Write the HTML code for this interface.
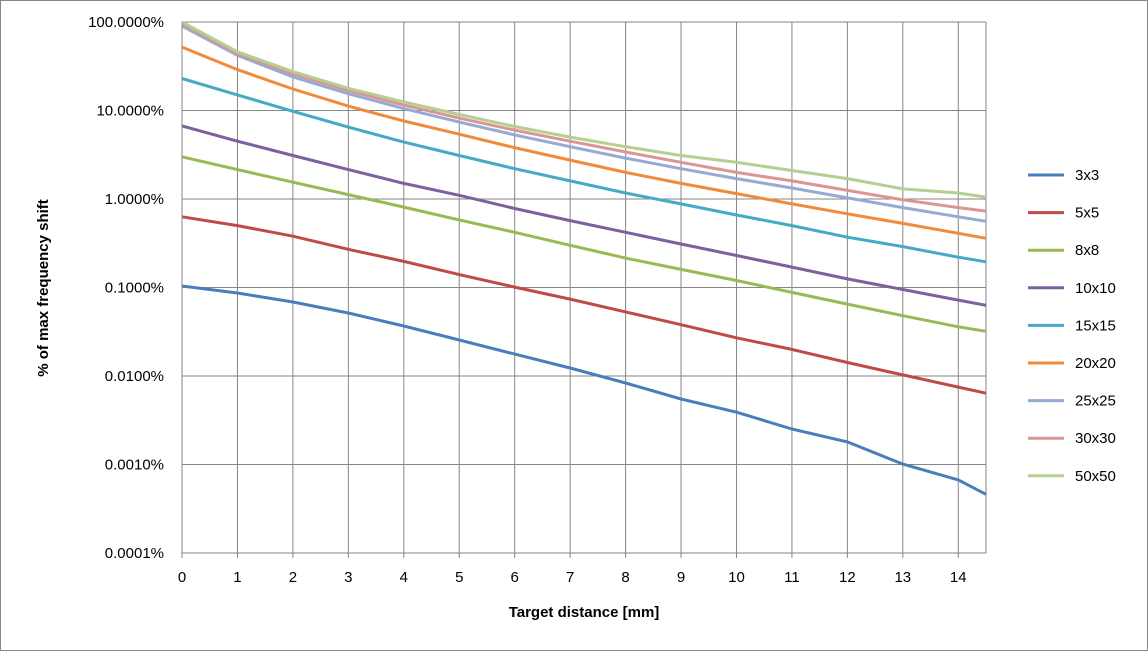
<!DOCTYPE html>
<html><head><meta charset="utf-8"><style>
html,body{margin:0;padding:0;background:#fff}
svg{display:block;font-family:"Liberation Sans",Arial,sans-serif}
</style></head><body>
<svg width="1148" height="651" viewBox="0 0 1148 651">
<rect x="0.5" y="0.5" width="1147" height="650" fill="#fff" stroke="#868686"/>
<g id="grid"></g>
<g id="series"></g>
<g id="axes"></g>
<text x="48" y="288" transform="rotate(-90 48 288)" text-anchor="middle" font-size="15" font-weight="bold">% of max frequency shift</text>
<text x="584" y="617" text-anchor="middle" font-size="15" font-weight="bold">Target distance [mm]</text>
<g id="legend"></g>
</svg>
<script>
const xs=[0,1,2,3,4,5,6,7,8,9,10,11,12,13,14,14.5];
const names=["3x3","5x5","8x8","10x10","15x15","20x20","25x25","30x30","50x50"];
const s3x3=[0.104,0.0867,0.0686,0.0515,0.0367,0.0255,0.0177,0.0123,0.00834,0.0055,0.0039,0.00252,0.0018,0.00101,0.00067,0.00046];
const s5x5=[0.63,0.50,0.38,0.27,0.197,0.14,0.101,0.074,0.053,0.038,0.027,0.020,0.0142,0.0103,0.0075,0.0064];
const s8x8=[3.0,2.15,1.55,1.12,0.81,0.58,0.42,0.30,0.215,0.16,0.12,0.088,0.065,0.048,0.036,0.032];
const s10x10=[6.7,4.5,3.1,2.15,1.5,1.1,0.78,0.57,0.42,0.31,0.23,0.17,0.125,0.095,0.072,0.063];
const s15x15=[23,15,9.8,6.5,4.4,3.1,2.2,1.6,1.17,0.88,0.66,0.5,0.37,0.29,0.22,0.195];
const s20x20=[52,29,17.5,11.2,7.6,5.4,3.8,2.75,2.0,1.5,1.15,0.88,0.68,0.53,0.41,0.36];
const s25x25=[90,42,24,15.5,10.5,7.4,5.3,3.9,2.9,2.2,1.7,1.33,1.03,0.8,0.63,0.56];
const s30x30=[95,44,26,16.8,11.5,8.2,6.0,4.5,3.4,2.6,2.0,1.6,1.25,0.98,0.8,0.73];
const s50x50=[100,46,27.5,17.8,12.5,9.0,6.6,5.0,3.9,3.1,2.6,2.1,1.7,1.3,1.17,1.05];
const yTicks=[100,10,1,0.1,0.01,0.001,0.0001];
const yTickLabels=["100.0000%","10.0000%","1.0000%","0.1000%","0.0100%","0.0010%","0.0001%"];
const xTicks=[0,1,2,3,4,5,6,7,8,9,10,11,12,13,14];
const allSeries=[s3x3,s5x5,s8x8,s10x10,s15x15,s20x20,s25x25,s30x30,s50x50];
const colors=["#4A7EBB","#BE4B48","#98B954","#7D60A0","#46AAC5","#F08A3C","#95ABD3","#DA9694","#B6CF91"];
const L=182,R=986,T=22,B=553,XMAX=14.5;
const NS="http://www.w3.org/2000/svg";
function X(v){return L+(v/XMAX)*(R-L);}
function Y(v){return T+(2-Math.log10(v))/6*(B-T);}
function mk(tag,attrs,parent){const e=document.createElementNS(NS,tag);for(const k in attrs)e.setAttribute(k,attrs[k]);parent.appendChild(e);return e;}
const grid=document.getElementById('grid'),axes=document.getElementById('axes'),ser=document.getElementById('series'),leg=document.getElementById('legend');
yTicks.forEach((t,i)=>{
 const l=mk('line',{x1:L,x2:R,y1:Y(t),y2:Y(t),stroke:'#868686','stroke-width':1},grid);
 
 
 const tx=mk('text',{x:164,y:Y(t)+5,'text-anchor':'end','font-size':15},axes);
 tx.textContent=yTickLabels[i];
 
 
});
xTicks.forEach(t=>{
 const l=mk('line',{x1:X(t),x2:X(t),y1:T,y2:B+5,stroke:'#868686','stroke-width':1},grid);
 
 
 const tx=mk('text',{x:X(t),y:B+29,'text-anchor':'middle','font-size':15},axes);
 tx.textContent=String(t);
 
 
});
const rl=mk('line',{x1:R,x2:R,y1:T,y2:B,stroke:'#868686'},grid);


const ax=mk('line',{x1:L,x2:L,y1:T,y2:B,stroke:'#868686'},axes);


allSeries.forEach((s,i)=>{
 const pts=s.map((v,j)=>X(xs[j]).toFixed(1)+','+Y(v).toFixed(1)).join(' ');
 const p=mk('polyline',{points:pts,fill:'none',stroke:colors[i],'stroke-width':3,'stroke-linejoin':'round'},ser);
 
 
 const ly=175+i*37.6;
 const ll=mk('line',{x1:1028,x2:1064,y1:ly,y2:ly,stroke:colors[i],'stroke-width':3},leg);
 
 
 const lt=mk('text',{x:1075,y:ly+5,'font-size':15},leg);
 lt.textContent=names[i];
 
 
});
</script>
</body></html>
